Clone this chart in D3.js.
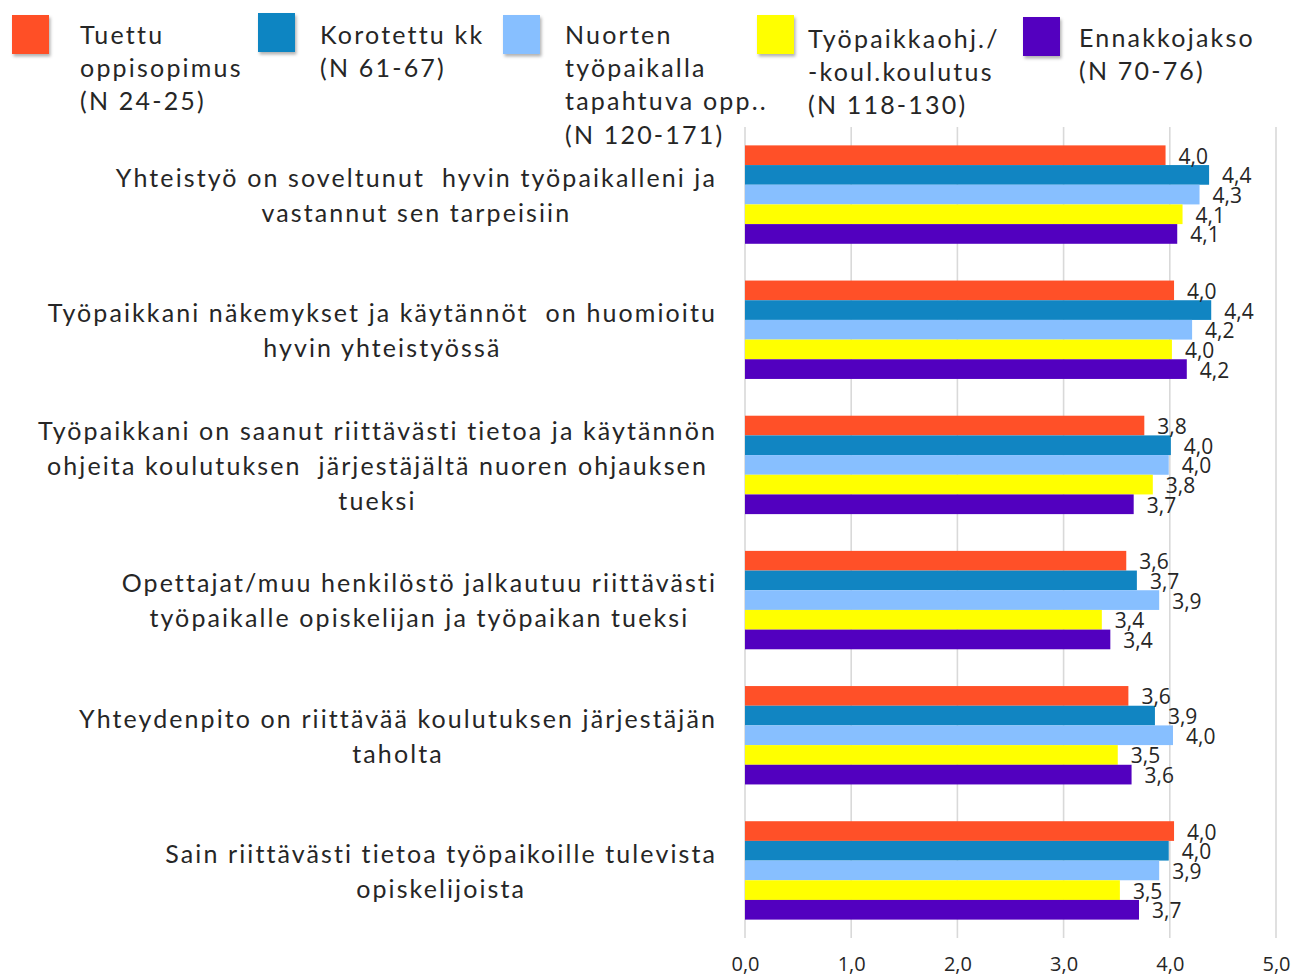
<!DOCTYPE html>
<html>
<head>
<meta charset="utf-8">
<script src="https://cdn.jsdelivr.net/npm/d3@7/dist/d3.min.js"></script>
<style>
  html, body { margin: 0; padding: 0; background: #fff; }
  svg { display: block; }
</style>
</head>
<body>
<svg id="chart" width="1292" height="977"></svg>
<script>
// Survey statements (each entry is a list of wrapped lines)
const categories = [
  ["Yhteistyö on soveltunut  hyvin työpaikalleni ja", "vastannut sen tarpeisiin"],
  ["Työpaikkani näkemykset ja käytännöt  on huomioitu", "hyvin yhteistyössä"],
  ["Työpaikkani on saanut riittävästi tietoa ja käytännön", "ohjeita koulutuksen  järjestäjältä nuoren ohjauksen", "tueksi"],
  ["Opettajat/muu henkilöstö jalkautuu riittävästi", "työpaikalle opiskelijan ja työpaikan tueksi"],
  ["Yhteydenpito on riittävää koulutuksen järjestäjän", "taholta"],
  ["Sain riittävästi tietoa työpaikoille tulevista", "opiskelijoista"]
];

// Series names (legend text, wrapped lines)
const seriesNames = [
  ["Tuettu", "oppisopimus", "(N 24-25)"],
  ["Korotettu kk", "(N 61-67)"],
  ["Nuorten", "työpaikalla", "tapahtuva opp..", "(N 120-171)"],
  ["Työpaikkaohj./", "-koul.koulutus", "(N 118-130)"],
  ["Ennakkojakso", "(N 70-76)"]
];

const seriesColors = ["#FF5028", "#1185C2", "#87BFFF", "#FFFF00", "#5200BF"];

// Mean scores per series, one value per statement
const tuettu      = [3.96, 4.04, 3.76, 3.59, 3.61, 4.04];
const korotettu   = [4.37, 4.39, 4.01, 3.69, 3.86, 3.99];
const nuorten     = [4.28, 4.21, 3.99, 3.90, 4.03, 3.90];
const tyopaikka   = [4.12, 4.02, 3.84, 3.36, 3.51, 3.53];
const ennakko     = [4.07, 4.16, 3.66, 3.44, 3.64, 3.71];
const seriesValues = [tuettu, korotettu, nuorten, tyopaikka, ennakko];

const tickValues = [0, 1, 2, 3, 4, 5];

const fmt = v => v.toFixed(1).replace(".", ",");

const svg = d3.select("#chart");
const textColor = "#262626";
const catFont = "Lato, 'Open Sans', sans-serif";
const numFont = "'Open Sans', 'Noto Sans', sans-serif";

// Drop shadow used under legend swatches
const defs = svg.append("defs");
const shadow = defs.append("filter").attr("id", "swShadow")
  .attr("x", "-20%").attr("y", "-20%").attr("width", "150%").attr("height", "150%");
shadow.append("feDropShadow").attr("dx", 1.5).attr("dy", 2.5).attr("stdDeviation", 1.6)
  .attr("flood-color", "#000").attr("flood-opacity", 0.3);

// Scales
const x = d3.scaleLinear().domain([0, 5]).range([745, 1276]);
const y0 = d3.scaleBand().domain(d3.range(categories.length))
  .range([127, 938]).paddingInner(0.272).paddingOuter(0.136);
const y1 = d3.scaleBand().domain(d3.range(seriesValues.length))
  .range([0, y0.bandwidth()]);

// Vertical gridlines
svg.append("g").selectAll("line").data(tickValues).join("line")
  .attr("x1", d => x(d)).attr("x2", d => x(d))
  .attr("y1", 127).attr("y2", 938)
  .attr("stroke", "#d9d9d9").attr("stroke-width", 1.6);

// Bottom axis tick labels (no axis line)
const xAxis = d3.axisBottom(x).tickValues(tickValues).tickFormat(fmt).tickSize(0).tickPadding(0);
const axG = svg.append("g").attr("transform", "translate(0,957)").call(xAxis);
axG.select(".domain").remove();
axG.selectAll("text")
  .attr("font-family", numFont).attr("font-size", 20)
  .attr("fill", textColor).attr("dy", "0.7em");

// Bars
const groups = svg.append("g").selectAll("g").data(categories).join("g")
  .attr("transform", (d, i) => `translate(0,${y0(i)})`);

groups.each(function (cat, ci) {
  const g = d3.select(this);
  const rows = seriesValues.map((vals, si) => ({ si, v: vals[ci] }));
  g.selectAll("rect").data(rows).join("rect")
    .attr("x", x(0))
    .attr("y", d => y1(d.si))
    .attr("width", d => x(d.v) - x(0))
    .attr("height", y1.bandwidth())
    .attr("fill", d => seriesColors[d.si]);
  g.selectAll("text.val").data(rows).join("text")
    .attr("class", "val")
    .attr("x", d => x(d.v) + 13)
    .attr("y", d => y1(d.si) + y1.bandwidth() / 2 + 1)
    .attr("dy", "0.36em")
    .attr("font-family", numFont).attr("font-size", 21)
    .attr("fill", textColor)
    .text(d => fmt(d.v));
});

// Category labels: each block centred on itself, widest line ending at x=717
const lineH = 35;
categories.forEach((lines, ci) => {
  const cy = y0(ci) + y0.bandwidth() / 2 + 1;
  const t = svg.append("text")
    .attr("font-family", catFont).attr("font-size", 25)
    .attr("letter-spacing", 2.1)
    .attr("fill", textColor).attr("text-anchor", "middle")
    .style("white-space", "pre");
  const spans = t.selectAll("tspan").data(lines).join("tspan")
    .attr("y", (d, i) => cy + (i - (lines.length - 1) / 2) * lineH)
    .attr("dy", "0.35em")
    .text(d => d);
  let maxW = 0;
  spans.each(function () { maxW = Math.max(maxW, this.getComputedTextLength()); });
  spans.attr("x", 717 - maxW / 2);
});

// Legend
const legendPos = [
  { sx: 12,   sy: 15, tx: 80,   ty: 35 },
  { sx: 258,  sy: 13, tx: 320,  ty: 35 },
  { sx: 503,  sy: 15, tx: 565,  ty: 35 },
  { sx: 757,  sy: 15, tx: 808,  ty: 39 },
  { sx: 1023, sy: 17, tx: 1079, ty: 38 }
];
const legend = svg.append("g");
seriesNames.forEach((lines, si) => {
  const p = legendPos[si];
  legend.append("rect")
    .attr("x", p.sx).attr("y", p.sy).attr("width", 37).attr("height", 39)
    .attr("fill", seriesColors[si]).attr("filter", "url(#swShadow)");
  const t = legend.append("text")
    .attr("font-family", catFont).attr("font-size", 25)
    .attr("letter-spacing", 2.2).attr("fill", textColor);
  t.selectAll("tspan").data(lines).join("tspan")
    .attr("x", p.tx)
    .attr("y", (d, i) => p.ty + i * 33.3)
    .attr("dy", "0.35em")
    .text(d => d);
});
</script>
</body>
</html>
